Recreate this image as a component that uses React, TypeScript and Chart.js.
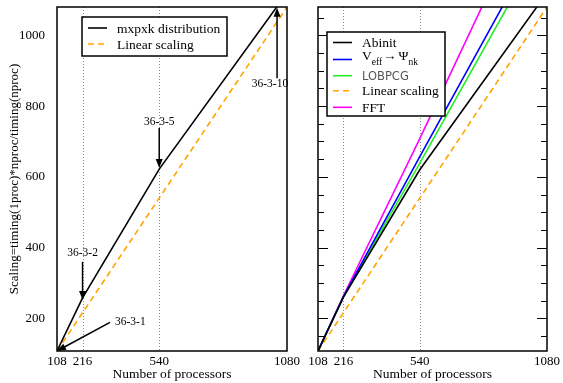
import React, { useEffect, useRef } from "react";
import { Chart, registerables } from "chart.js";
Chart.register(...registerables);

// ---------- data ----------
const processors = [108, 216, 540, 1080];
const xTickValues = [108, 216, 540, 1080];
const dottedX = [216, 540];
const leftYLabels = [200, 400, 600, 800, 1000];

const mxpxk = [108, 258, 622, 1120];
const linearScaling = [108, 216, 540, 1080];
const abinit = [108, 260, 620, 1120];
const veff = [108, 262, 657, 1310];
const lobpcg = [108, 261, 639, 1280];
const fft = [108, 264, 708, 1470];

const annotLabels = ["36-3-1", "36-3-2", "36-3-5", "36-3-10"];
const annotTextX = [353, 216, 540, 1008];
const annotTextY = [191, 386, 755, 862];
const annotFromX = [332, 216, 540, 1038];
const annotFromY = [189, 360, 738, 879];
const annotToX = [108, 216, 540, 1038];
const annotToY = [108, 252, 625, 1078];

const SERIF = "'Liberation Serif', 'Times New Roman', serif";
const SANS = "'DejaVu Sans', sans-serif";
const DASH = [6, 4];

type Series = { label: string; values: number[]; color: string; dash?: number[] };

const leftSeries: Series[] = [
  { label: "mxpxk distribution", values: mxpxk, color: "#000000" },
  { label: "Linear scaling", values: linearScaling, color: "#FFA500", dash: DASH },
];
const rightSeries: Series[] = [
  { label: "Abinit", values: abinit, color: "#000000" },
  { label: "Veff", values: veff, color: "#0000FF" },
  { label: "LOBPCG", values: lobpcg, color: "#22EE22" },
  { label: "Linear scaling", values: linearScaling, color: "#FFA500", dash: DASH },
  { label: "FFT", values: fft, color: "#FF00FF" },
];

function arrow(ctx: CanvasRenderingContext2D, x1: number, y1: number, x2: number, y2: number, head = true) {
  const a = Math.atan2(y2 - y1, x2 - x1);
  const L = 9, W = 3.5;
  const c = Math.cos(a), s = Math.sin(a);
  ctx.beginPath();
  ctx.moveTo(x1, y1);
  ctx.lineTo(head ? x2 - c * L * 0.7 : x2, head ? y2 - s * L * 0.7 : y2);
  ctx.stroke();
  if (head) {
    ctx.beginPath();
    ctx.moveTo(x2, y2);
    ctx.lineTo(x2 - L * c + W * s, y2 - L * s - W * c);
    ctx.lineTo(x2 - L * c - W * s, y2 - L * s + W * c);
    ctx.closePath();
    ctx.fill();
  }
}

function makePlugin(isLeft: boolean, series: Series[], legendBox: number[], rowYs: number[]) {
  return {
    id: "decor",
    beforeDatasetsDraw(chart: any) {
      const { ctx, chartArea: a, scales } = chart;
      const x = scales.x;
      ctx.save();
      ctx.strokeStyle = "#8a8a8a";
      ctx.lineWidth = 1;
      ctx.setLineDash([1, 2]);
      dottedX.forEach((v) => {
        const px = Math.round(x.getPixelForValue(v)) + 0.5;
        ctx.beginPath();
        ctx.moveTo(px, a.top);
        ctx.lineTo(px, a.bottom);
        ctx.stroke();
      });
      ctx.restore();
    },
    afterDatasetsDraw(chart: any) {
      const { ctx, chartArea: a, scales } = chart;
      const x = scales.x, y = scales.y;
      ctx.save();
      // frame
      ctx.strokeStyle = "#000";
      ctx.lineWidth = 1.5;
      ctx.setLineDash([]);
      ctx.strokeRect(a.left, a.top, a.right - a.left, a.bottom - a.top);
      // y tick marks (inward, both sides)
      const step = isLeft ? 100 : 50;
      ctx.lineWidth = 1.2;
      for (let v = 150; v <= 1080; v += step) {
        if (isLeft && v % 100 !== 0) continue;
        const major = v % 200 === 0;
        const len = major ? 10 : 6;
        const py = Math.round(y.getPixelForValue(v)) + 0.5;
        ctx.beginPath();
        ctx.moveTo(a.left, py);
        ctx.lineTo(a.left + len, py);
        ctx.moveTo(a.right, py);
        ctx.lineTo(a.right - len, py);
        ctx.stroke();
      }
      // annotations
      if (isLeft) {
        ctx.fillStyle = "#000";
        ctx.strokeStyle = "#000";
        ctx.lineWidth = 1.5;
        ctx.font = `11.5px ${SERIF}`;
        ctx.textBaseline = "middle";
        annotLabels.forEach((lab, i) => {
          ctx.textAlign = i === 0 ? "left" : "center";
          ctx.fillText(lab, x.getPixelForValue(annotTextX[i]), y.getPixelForValue(annotTextY[i]));
          arrow(
            ctx,
            x.getPixelForValue(annotFromX[i]),
            y.getPixelForValue(annotFromY[i]),
            x.getPixelForValue(annotToX[i]),
            y.getPixelForValue(annotToY[i])
          );
        });
      }
      // legend
      const [bx, by, bw, bh] = legendBox;
      ctx.fillStyle = "#fff";
      ctx.fillRect(bx, by, bw, bh);
      ctx.strokeStyle = "#000";
      ctx.lineWidth = 1.5;
      ctx.strokeRect(bx, by, bw, bh);
      series.forEach((s, i) => {
        const ry = rowYs[i];
        ctx.strokeStyle = s.color;
        ctx.lineWidth = 1.6;
        ctx.setLineDash(s.dash || []);
        ctx.beginPath();
        ctx.moveTo(bx + 6, ry);
        ctx.lineTo(bx + 25, ry);
        ctx.stroke();
        ctx.setLineDash([]);
        const tx = bx + 35;
        ctx.textAlign = "left";
        ctx.textBaseline = "alphabetic";
        ctx.fillStyle = "#000";
        if (s.label === "Veff") {
          let cx = tx;
          const base = ry + 0.5;
          ctx.font = `13.5px ${SERIF}`;
          ctx.fillText("V", cx, base);
          cx += ctx.measureText("V").width;
          ctx.font = `9.5px ${SERIF}`;
          ctx.fillText("eff", cx, base + 5);
          cx += ctx.measureText("eff").width + 1;
          ctx.font = `13.5px ${SERIF}`;
          ctx.fillText("\u2192", cx, base);
          cx += ctx.measureText("\u2192").width + 2;
          ctx.fillText("\u03A8", cx, base);
          cx += ctx.measureText("\u03A8").width;
          ctx.font = `9.5px ${SERIF}`;
          ctx.fillText("nk", cx, base + 5);
        } else if (s.label === "LOBPCG") {
          ctx.font = `11.5px ${SANS}`;
          ctx.fillStyle = "#555";
          ctx.fillText(s.label, tx, ry + 4);
        } else {
          ctx.font = `13.5px ${SERIF}`;
          ctx.fillText(s.label, tx, ry + 4.5);
        }
      });
      ctx.restore();
    },
  };
}

function makeConfig(isLeft: boolean): any {
  const series = isLeft ? leftSeries : rightSeries;
  const font = { family: SERIF, size: 13 };
  return {
    type: "line",
    data: {
      datasets: series.map((s) => ({
        label: s.label,
        data: processors.map((p, i) => ({ x: p, y: s.values[i] })),
        borderColor: s.color,
        borderWidth: 1.6,
        borderDash: s.dash || [],
        pointRadius: 0,
        fill: false,
        tension: 0,
      })),
    },
    options: {
      animation: false,
      responsive: false,
      events: [],
      layout: { padding: { top: 7, right: isLeft ? 23 : 16, bottom: 0, left: 0 } },
      plugins: { legend: { display: false }, tooltip: { enabled: false } },
      scales: {
        x: {
          type: "linear",
          min: 108,
          max: 1080,
          afterBuildTicks: (s: any) => {
            s.ticks = xTickValues.map((v) => ({ value: v }));
          },
          afterFit: (s: any) => {
            s.height = 32;
            s.paddingLeft = 0;
            s.paddingRight = 0;
          },
          grid: { display: false, drawTicks: false, tickLength: 0 },
          border: { display: false },
          ticks: {
            font,
            color: "#000",
            padding: 3,
            maxRotation: 0,
            autoSkip: false,
            callback: (v: any) => String(v),
          },
          title: { display: true, text: "Number of processors", font: { family: SERIF, size: 13.5 }, color: "#000", padding: { top: 0, bottom: 0 } },
        },
        y: {
          type: "linear",
          min: 108,
          max: 1080,
          afterBuildTicks: (s: any) => {
            s.ticks = leftYLabels.map((v) => ({ value: v }));
          },
          afterFit: (s: any) => {
            s.width = isLeft ? 57 : 28;
            s.paddingTop = 0;
            s.paddingBottom = 0;
          },
          grid: { display: false, drawTicks: false, tickLength: 0 },
          border: { display: false },
          ticks: { display: isLeft, font, color: "#000", padding: 12, callback: (v: any) => String(v) },
          title: {
            display: isLeft,
            text: "Scaling=timing(1proc)*nproc/timing(nproc)",
            font,
            color: "#000",
            padding: { top: 7, bottom: 0 },
          },
        },
      },
    },
    plugins: [
      isLeft
        ? makePlugin(true, leftSeries, [82, 17, 145, 39], [28, 44])
        : makePlugin(false, rightSeries, [37, 32, 118, 84], [42.5, 59.5, 75.7, 90.7, 107.3]),
    ],
  };
}

export default function App() {
  const leftRef = useRef<HTMLCanvasElement>(null);
  const rightRef = useRef<HTMLCanvasElement>(null);
  useEffect(() => {
    const c1 = new Chart(leftRef.current as HTMLCanvasElement, makeConfig(true));
    const c2 = new Chart(rightRef.current as HTMLCanvasElement, makeConfig(false));
    return () => {
      c1.destroy();
      c2.destroy();
    };
  }, []);
  return (
    <div style={{ position: "absolute", left: 0, top: 0, width: 563, height: 383, background: "#fff" }}>
      <canvas ref={leftRef} width={310} height={383} style={{ position: "absolute", left: 0, top: 0 }} />
      <canvas ref={rightRef} width={273} height={383} style={{ position: "absolute", left: 290, top: 0 }} />
    </div>
  );
}
